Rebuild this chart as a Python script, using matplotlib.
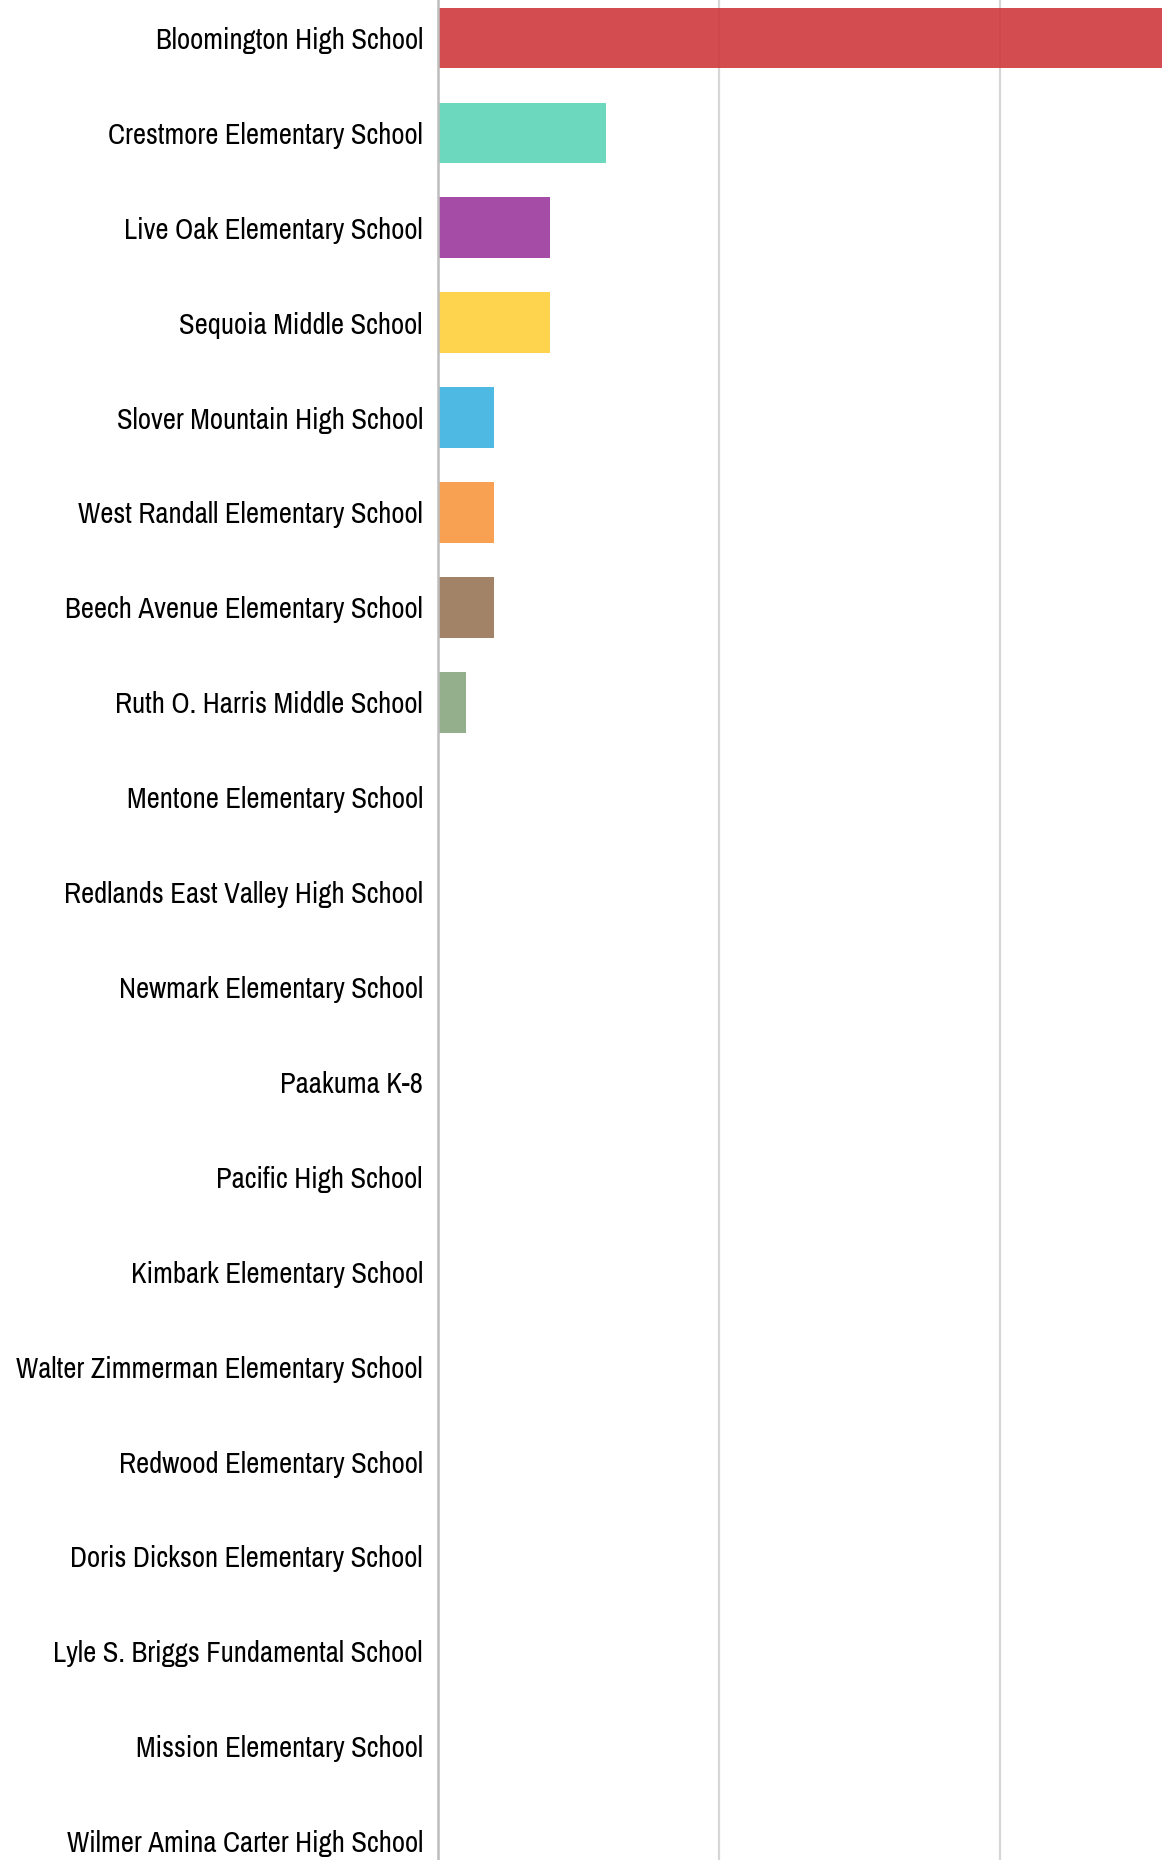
import matplotlib
matplotlib.use("Agg")
import matplotlib.pyplot as plt
from matplotlib import font_manager
from matplotlib.colors import to_rgb

schools = [
    "Bloomington High School",
    "Crestmore Elementary School",
    "Live Oak Elementary School",
    "Sequoia Middle School",
    "Slover Mountain High School",
    "West Randall Elementary School",
    "Beech Avenue Elementary School",
    "Ruth O. Harris Middle School",
    "Mentone Elementary School",
    "Redlands East Valley High School",
    "Newmark Elementary School",
    "Paakuma K-8",
    "Pacific High School",
    "Kimbark Elementary School",
    "Walter Zimmerman Elementary School",
    "Redwood Elementary School",
    "Doris Dickson Elementary School",
    "Lyle S. Briggs Fundamental School",
    "Mission Elementary School",
    "Wilmer Amina Carter High School",
]
counts = [30, 6, 4, 4, 2, 2, 2, 1, 0, 0, 0, 0, 0, 0, 0, 0, 0, 0, 0, 0]
bar_colors = [
    "#d44e50", "#6cd9bf", "#a54ea6", "#fed54f", "#4fbbe3", "#f9a152",
    "#a28468", "#95b08c", "#cccccc", "#cccccc", "#cccccc", "#cccccc",
    "#cccccc", "#cccccc", "#cccccc", "#cccccc", "#cccccc", "#cccccc",
    "#cccccc", "#cccccc",
]
grid_ticks = [0, 10, 20]

# condensed sans, like the Arial Narrow of the original
installed = {f.name for f in font_manager.fontManager.ttflist}
candidates = ["Liberation Sans Narrow", "Arimo Narrow", "Archivo Narrow",
              "Roboto Condensed", "PT Sans Narrow", "Pragati Narrow",
              "Encode Sans Condensed", "Liberation Sans"]
label_font = next(c for c in candidates if c in installed or c == "Liberation Sans")

# bars are slightly see-through (grid shows through); pre-darken so the
# colour on white matches the original
ALPHA = 0.9
def base_color(c):
    return tuple(min(1, max(0, (v - (1 - ALPHA)) / ALPHA)) for v in to_rgb(c))

W, H = 1162, 1860
fig = plt.figure(figsize=(W / 100, H / 100), dpi=100)

# axes run past the figure edges: the reference is a crop of a bigger chart
left_px, pitch = 437.5, 94.9
top_px = 38 - pitch / 2
bottom_px = top_px + pitch * len(schools)
ax = fig.add_axes([left_px / W, (H - bottom_px) / H,
                   (W - left_px) / W, (bottom_px - top_px) / H])

y = list(range(len(schools)))
ax.barh(y, counts, height=0.64, color=[base_color(c) for c in bar_colors],
        alpha=ALPHA, zorder=2)

ax.set_xlim(0, (W - left_px) / 28.1)
ax.set_ylim(len(schools) - 0.5, -0.5)
ax.set_xticks(grid_ticks)
ax.xaxis.grid(True, color="#d6d6d6", linewidth=1.6)
ax.set_axisbelow(True)
ax.tick_params(axis="x", length=0, labelbottom=False)
ax.tick_params(axis="y", length=0, pad=10.5)
ax.set_yticks(y)

# size the labels so the first one is as wide as in the original (~267 px)
probe = fig.text(0, 0, schools[0], fontsize=20, family=label_font)
w = probe.get_window_extent(fig.canvas.get_renderer()).width
probe.remove()
label_size = 20 * 267 / w
ax.set_yticklabels(schools, fontsize=label_size, family=label_font, color="#000000")

for side in ["top", "right", "bottom"]:
    ax.spines[side].set_visible(False)
ax.spines["left"].set_color("#bdbdbd")
ax.spines["left"].set_linewidth(1.8)
ax.spines["left"].set_zorder(3)

fig.savefig("out.png", dpi=100)
